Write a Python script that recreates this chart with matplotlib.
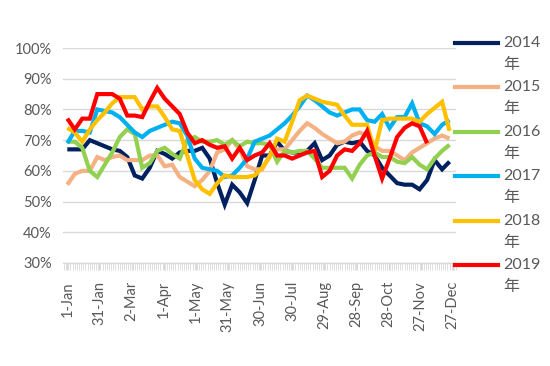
import matplotlib
matplotlib.use("Agg")
import matplotlib.pyplot as plt
import matplotlib.dates as mdates
from matplotlib.lines import Line2D
import pandas as pd

# weekly share, one list per year
years = ["2014", "2015", "2016", "2017", "2018", "2019"]
colors = ["#002060", "#F4B183", "#92D050", "#00B0F0", "#FFC000", "#FF0000"]

y2014 = [67, 67, 67, 70, 69, 68, 67, 66.5, 64.5, 58.5, 57.5, 61, 66.5, 65.5, 64, 66,
         66.5, 66.5, 67.5, 64, 56, 49, 55.5, 53, 49.5, 57, 65, 65, 69.5, 66.5, 66, 66,
         66.5, 69, 63.5, 65, 68.5, 69.5, 69, 69.5, 66.5, 65, 61, 58.5, 56, 55.5, 55.5, 54,
         57, 63.5, 60.5, 63]
y2015 = [55.5, 59, 60, 60, 64.5, 63.5, 64.5, 65, 63.5, 63.5, 63.5, 65, 65, 61.5, 62, 58,
         56.5, 55, 57, 60, 66, 67, 70, 67, 61.5, 60.5, 60.5, 65, 67, 67, 70, 73,
         75.5, 74, 72, 70.5, 69, 69.5, 71.5, 72.5, 71.5, 68, 66.5, 66.5, 65, 63.5, 66, 67.5,
         69, 70.5, 71.5, 70.5]
y2016 = [69.5, 69.5, 67.5, 60, 58, 62, 66, 71, 73.5, 72, 61, 62.5, 66.5, 67.5, 65.5, 64,
         70, 71, 69.5, 69.5, 70, 68.5, 70, 68, 69.5, 69, 69, 68.5, 63, 66.5, 66, 66.5,
         66.5, 64, 61, 61, 61, 61, 57.5, 62, 65, 66, 64.5, 64.5, 63, 62.5, 64.5, 62,
         60.5, 64, 66.5, 68.5]
y2017 = [69, 73, 73, 72.5, 80, 79.5, 79, 77.5, 75, 72.5, 71, 73, 74, 75, 76, 75.5,
         71.5, 64, 61, 60.5, 60, 58, 58.5, 61, 64, 69.5, 70.5, 71.5, 73.5, 75.5, 78, 81,
         84.5, 83, 81, 79, 78, 79, 80, 80, 76.5, 76, 78.5, 74, 77.5, 77.5, 82, 75.5,
         74.5, 72, 75, 76.5]
y2018 = [74, 72.5, 69.5, 73.5, 76.5, 79, 82, 84, 84, 84, 80, 81, 81, 77.5, 73.5, 73,
         65, 57, 54, 52.5, 56, 58.5, 58, 58, 58, 58.5, 61, 64.5, 70.5, 69.5, 76, 83,
         84.5, 83.5, 82.5, 82, 81.5, 78, 75, 75, 75, 66.5, 76.5, 77, 77, 77, 77, 76,
         78.5, 80.5, 82.5, 73]
y2019 = [77, 73.5, 77, 77, 85, 85, 85, 83.5, 78, 78, 77.5, 82.5, 87, 83.5, 81, 78.5,
         72.5, 69, 70, 68.5, 67.5, 68, 64, 67.5, 63.5, 65, 66, 69, 65, 65, 64, 65,
         66, 66.5, 58, 60, 65, 67, 66.5, 69, 73, 65, 57.5, 64, 71, 74, 75.5, 74.5,
         69]
series = [y2014, y2015, y2016, y2017, y2018, y2019]

weeks = pd.date_range("2019-01-01", periods=52, freq="7D")
tick_dates = pd.date_range("2019-01-01", periods=13, freq="30D")
yticks = [30, 40, 50, 60, 70, 80, 90, 100]

fonts = ["Lato", "Noto Sans CJK SC", "DejaVu Sans"]
plt.rcParams["font.family"] = fonts
txt = "#595959"
grid = "#D9D9D9"

fig = plt.figure(figsize=(5.5, 3.66), dpi=100)
W, H = 550, 366
ax = fig.add_axes([63 / W, 103 / H, 393 / W, 215 / H])

for vals, c in zip(series, colors):
    ax.plot(weeks[:len(vals)], vals, color=c, lw=3, solid_capstyle="butt", solid_joinstyle="miter")

ax.set_ylim(30, 100)
ax.set_yticks(yticks)
ax.set_yticklabels([f"{v}%" for v in yticks])
ax.set_xlim(pd.Timestamp("2018-12-28"), pd.Timestamp("2019-12-30"))
ax.set_xticks(tick_dates)
ax.xaxis.set_major_formatter(mdates.DateFormatter("%-d-%b"))
ax.xaxis.set_minor_locator(mdates.DayLocator(interval=2))

ax.yaxis.grid(True, color=grid, lw=1)
ax.set_axisbelow(True)
for s in ["top", "right", "left"]:
    ax.spines[s].set_visible(False)
ax.spines["bottom"].set_color(grid)
ax.spines["bottom"].set_linewidth(1)

ax.tick_params(axis="y", length=0, pad=8, labelsize=10.5, labelcolor=txt)
ax.tick_params(axis="x", which="major", length=5, color=grid, pad=8,
               labelsize=10.5, labelcolor=txt, labelrotation=90)
ax.tick_params(axis="x", which="minor", length=5, color=grid, width=0.6)

# legend on the right, label wraps onto a second line
for i, (yr, c) in enumerate(zip(years, colors)):
    yp = 43 + 44.4 * i
    fig.add_artist(Line2D([455 / W, 498 / W], [1 - yp / H] * 2, color=c, lw=3,
                          transform=fig.transFigure))
    fig.text(503 / W, 1 - yp / H, yr, color=txt, fontsize=11.5, va="center", ha="left")
    fig.text(503 / W, 1 - (yp + 22) / H, "年", color=txt, fontsize=11.5, va="center", ha="left")

fig.savefig("out.png", dpi=100)
